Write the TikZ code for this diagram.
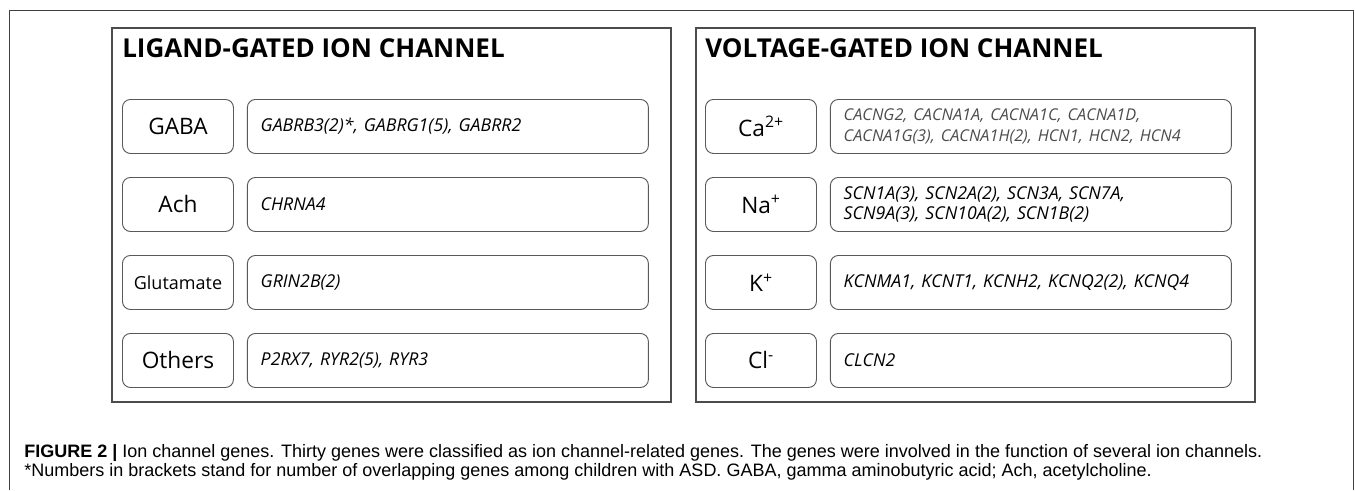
\documentclass[tikz,border=0pt]{standalone}
\usepackage{fontspec}
\setmainfont{Open Sans}
\newfontfamily\capfont{Liberation Sans}
\usetikzlibrary{positioning}

\newcommand{\cafont}{\color{black!70}\fontsize{12.2}{14.2}\selectfont}
\newcommand{\glufont}{\fontsize{13.5}{16}\selectfont}

\begin{document}
\begin{tikzpicture}[
    x=0.75pt, y=-0.75pt,
    frame/.style={draw=black!75, line width=0.6pt},
    panel/.style={draw=black!70, line width=0.9pt, minimum width=419.25pt,
                  minimum height=280.5pt, inner sep=0pt, outer sep=0pt},
    paneltitle/.style={font=\fontsize{19.5}{22}\selectfont\bfseries, inner sep=0pt},
    ionbox/.style={draw=black!65, line width=0.7pt, rounded corners=6pt,
                   minimum width=83.25pt, minimum height=40.5pt, inner sep=2pt,
                   font=\fontsize{17}{20}\selectfont},
    genebox/.style={draw=black!65, line width=0.7pt, rounded corners=6pt,
                    minimum height=40.5pt, text width=280.75pt, inner xsep=10pt,
                    align=left, font=\fontsize{13.3}{15.5}\selectfont\itshape},
    caption/.style={font=\capfont\fontsize{13.5}{15}\selectfont, inner sep=0pt}
  ]
  \useasboundingbox (0,0) rectangle (1355,490);

  % Outer frame
  \draw[frame] (9,490) |- (1353,10) -- (1353,490);

  % Ligand-gated panel
  \node[panel, anchor=north west] (lgic) at (112,28) {};
  \node[paneltitle, anchor=base west] (lgic-title) at (122,57) {LIGAND-GATED ION CHANNEL};
  \foreach \i/\ion/\genes in {0/GABA/{GABRB3(2)*, GABRG1(5), GABRR2},
                              1/Ach/{CHRNA4},
                              2/{\glufont Glutamate}/{GRIN2B(2)},
                              3/Others/{P2RX7, RYR2(5), RYR3}} {
    \node[ionbox, anchor=north west] (lig\i) at (122,99+78*\i) {\ion};
    \node[genebox, right=9.75pt of lig\i] (liggene\i) {\genes};
  }

  % Voltage-gated panel
  \node[panel, anchor=north west] (vgic) at (696,28) {};
  \node[paneltitle, anchor=base west] (vgic-title) at (705,57) {VOLTAGE-GATED ION CHANNEL};
  \foreach \i/\ion/\genes in {0/{Ca\textsuperscript{2+}}/{\cafont CACNG2, CACNA1A, CACNA1C, CACNA1D,\\CACNA1G(3), CACNA1H(2), HCN1, HCN2, HCN4},
                              1/{Na\textsuperscript{+}}/{SCN1A(3), SCN2A(2), SCN3A, SCN7A,\\SCN9A(3), SCN10A(2), SCN1B(2)},
                              2/{K\textsuperscript{+}}/{KCNMA1, KCNT1, KCNH2, KCNQ2(2), KCNQ4},
                              3/{Cl\textsuperscript{-}}/{CLCN2}} {
    \node[ionbox, anchor=north west] (vol\i) at (705,99+78*\i) {\ion};
    \node[genebox, right=9.75pt of vol\i] (volgene\i) {\genes};
  }

  % Caption
  \node[caption, anchor=base west] (cap1) at (24,457)
    {\textbf{FIGURE 2 |} Ion channel genes. Thirty genes were classified as ion channel-related genes. The genes were involved in the function of several ion channels.};
  \node[caption, anchor=base west] (cap2) at (24,476)
    {*Numbers in brackets stand for number of overlapping genes among children with ASD. GABA, gamma aminobutyric acid; Ach, acetylcholine.};
\end{tikzpicture}
\end{document}
